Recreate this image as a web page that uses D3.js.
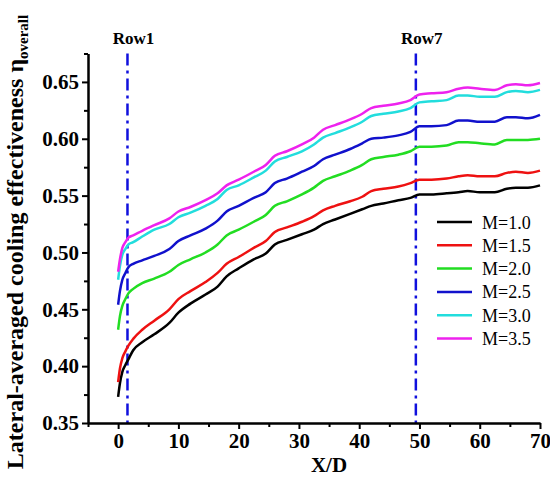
<!DOCTYPE html>
<html>
<head>
<meta charset="utf-8">
<script src="https://d3js.org/d3.v7.min.js"></script>
<style>
  body { margin: 0; background: #fff; }
  text { font-family: "Liberation Serif", "Times New Roman", serif; }
</style>
</head>
<body>
<svg id="chart" width="550" height="479"></svg>
<script>
// X/D positions shared by all series
const xd = [0, 0.3, 0.7, 1.2, 1.7, 2.5, 4, 6, 8.5, 10, 12, 14.5, 16.5, 18, 20, 22.5, 24.5, 26, 28, 30.5,
            32.5, 34, 36, 38.5, 40.5, 42, 44, 46.5, 48.5, 50, 52, 54.5, 56.5, 58, 60, 62.5, 64.5, 66, 68, 70];

const seriesNames = ['M=1.0', 'M=1.5', 'M=2.0', 'M=2.5', 'M=3.0', 'M=3.5'];
const seriesColors = ['#000000', '#ee1111', '#22dd22', '#1111cc', '#22dddd', '#ee22ee'];

const m10 = [0.373, 0.385, 0.395, 0.401, 0.406, 0.414, 0.421, 0.428, 0.438, 0.447, 0.455, 0.463, 0.470, 0.479, 0.486, 0.494, 0.499, 0.507, 0.511, 0.516,
             0.520, 0.525, 0.529, 0.534, 0.538, 0.541, 0.543, 0.546, 0.548, 0.551, 0.551, 0.552, 0.553, 0.554, 0.553, 0.553, 0.556, 0.557, 0.557, 0.559];
const m15 = [0.386, 0.398, 0.407, 0.413, 0.418, 0.424, 0.432, 0.440, 0.450, 0.459, 0.466, 0.474, 0.482, 0.490, 0.496, 0.504, 0.510, 0.518, 0.522, 0.527,
             0.532, 0.537, 0.541, 0.545, 0.549, 0.554, 0.556, 0.558, 0.561, 0.564, 0.564, 0.565, 0.567, 0.568, 0.567, 0.567, 0.570, 0.571, 0.570, 0.572];
const m20 = [0.432, 0.444, 0.453, 0.459, 0.464, 0.468, 0.473, 0.477, 0.483, 0.489, 0.494, 0.500, 0.507, 0.515, 0.520, 0.527, 0.533, 0.541, 0.545, 0.551,
             0.557, 0.563, 0.567, 0.572, 0.577, 0.582, 0.584, 0.586, 0.589, 0.593, 0.593, 0.594, 0.597, 0.597, 0.596, 0.595, 0.599, 0.599, 0.599, 0.600];
const m25 = [0.454, 0.466, 0.476, 0.482, 0.487, 0.490, 0.493, 0.497, 0.503, 0.510, 0.515, 0.521, 0.528, 0.536, 0.541, 0.548, 0.553, 0.561, 0.565, 0.571,
             0.576, 0.582, 0.586, 0.591, 0.596, 0.600, 0.601, 0.603, 0.606, 0.611, 0.611, 0.612, 0.616, 0.616, 0.615, 0.615, 0.619, 0.619, 0.618, 0.621];
const m30 = [0.476, 0.488, 0.498, 0.503, 0.507, 0.509, 0.514, 0.520, 0.525, 0.531, 0.535, 0.541, 0.547, 0.555, 0.559, 0.566, 0.572, 0.580, 0.584, 0.589,
             0.595, 0.601, 0.605, 0.610, 0.615, 0.620, 0.622, 0.624, 0.627, 0.632, 0.633, 0.634, 0.638, 0.638, 0.637, 0.637, 0.641, 0.642, 0.641, 0.643];
const m35 = [0.483, 0.494, 0.504, 0.509, 0.513, 0.515, 0.519, 0.524, 0.530, 0.536, 0.540, 0.546, 0.552, 0.559, 0.564, 0.571, 0.577, 0.585, 0.589, 0.595,
             0.601, 0.608, 0.612, 0.617, 0.622, 0.627, 0.629, 0.631, 0.634, 0.639, 0.640, 0.641, 0.644, 0.645, 0.644, 0.643, 0.647, 0.648, 0.647, 0.649];

const seriesValues = [m10, m15, m20, m25, m30, m35];

const xTicks = [0, 10, 20, 30, 40, 50, 60, 70];
const xMinor = [-5, 5, 15, 25, 35, 45, 55, 65];
const yTicks = [0.35, 0.40, 0.45, 0.50, 0.55, 0.60, 0.65];
const yMinor = [0.375, 0.425, 0.475, 0.525, 0.575, 0.625, 0.675];

// row markers
const rowNames = ['Row1', 'Row7'];
const rowPos = [1.55, 49.4];

const svg = d3.select('#chart');
const plotLeft = 88, plotRight = 540, plotTop = 53.5, plotBottom = 423;

const x = d3.scaleLinear().domain([-5, 70]).range([plotLeft, plotRight]);
const y = d3.scaleLinear().domain([0.35, 0.675]).range([plotBottom, plotTop]);

// vertical dash-dot lines
svg.append('g').selectAll('line')
  .data(rowPos)
  .join('line')
    .attr('x1', d => x(d)).attr('x2', d => x(d))
    .attr('y1', plotTop).attr('y2', plotBottom)
    .attr('stroke', '#1010dd')
    .attr('stroke-width', 2.5)
    .attr('stroke-dasharray', '12,5,3,5');

svg.append('g').selectAll('text')
  .data(rowNames)
  .join('text')
    .attr('x', (d, i) => x(rowPos[i]) + 6)
    .attr('y', 44)
    .attr('text-anchor', 'middle')
    .attr('font-size', 17)
    .attr('font-weight', 'bold')
    .text(d => d);

// lines
const line = d3.line()
  .x((d, i) => x(xd[i]))
  .y(d => y(d))
  .curve(d3.curveMonotoneX);

svg.append('g').selectAll('path')
  .data(seriesValues)
  .join('path')
    .attr('fill', 'none')
    .attr('stroke', (d, i) => seriesColors[i])
    .attr('stroke-width', 2.5)
    .attr('d', line);

// axes
const styleAxis = g => {
  g.select('.domain').attr('stroke', '#000').attr('stroke-width', 2);
  g.selectAll('.tick line').attr('stroke', '#000').attr('stroke-width', 2);
  g.selectAll('.tick text')
    .attr('font-family', '"Liberation Serif", "Times New Roman", serif')
    .attr('font-size', 21)
    .attr('font-weight', 'bold')
    .attr('fill', '#000');
};

svg.append('g')
  .attr('transform', `translate(0,${plotBottom})`)
  .call(d3.axisBottom(x).tickValues(xMinor).tickSize(4).tickFormat('').tickSizeOuter(0))
  .call(styleAxis);
svg.append('g')
  .attr('transform', `translate(0,${plotBottom})`)
  .call(d3.axisBottom(x).tickValues(xTicks).tickSize(6).tickPadding(4).tickFormat(d3.format('d')).tickSizeOuter(0))
  .call(styleAxis);

svg.append('g')
  .attr('transform', `translate(${plotLeft},0)`)
  .call(d3.axisLeft(y).tickValues(yMinor).tickSize(4).tickFormat('').tickSizeOuter(0))
  .call(styleAxis);
svg.append('g')
  .attr('transform', `translate(${plotLeft},0)`)
  .call(d3.axisLeft(y).tickValues(yTicks).tickSize(6).tickPadding(3).tickFormat(d3.format('.2f')).tickSizeOuter(0))
  .call(styleAxis);

// axis titles
svg.append('text')
  .attr('x', 329).attr('y', 472)
  .attr('text-anchor', 'middle')
  .attr('font-size', 21)
  .attr('font-weight', 'bold')
  .text('X/D');

const yTitle = svg.append('text')
  .attr('transform', 'translate(23,242) rotate(-90)')
  .attr('text-anchor', 'middle')
  .attr('font-size', 24)
  .attr('font-weight', 'bold');
yTitle.append('tspan').text('Lateral-averaged cooling effectiveness η');
yTitle.append('tspan').attr('font-size', 15).attr('dy', 5).text('overall');

// legend
const legend = svg.append('g').selectAll('g')
  .data(seriesNames)
  .join('g')
    .attr('transform', (d, i) => `translate(437,${222 + i * 23.3})`);
legend.append('line')
  .attr('x1', 0).attr('x2', 35)
  .attr('stroke', (d, i) => seriesColors[i])
  .attr('stroke-width', 2.5);
legend.append('text')
  .attr('x', 45).attr('y', 6.5)
  .attr('font-size', 18)
  .text(d => d);
</script>
</body>
</html>
